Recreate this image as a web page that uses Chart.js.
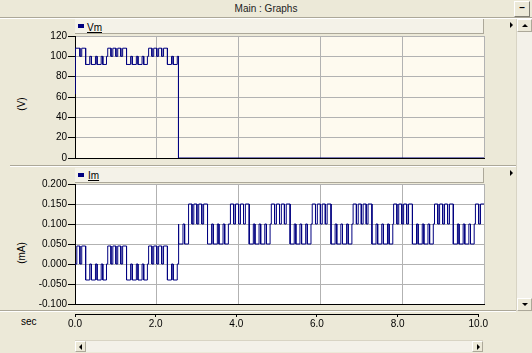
<!DOCTYPE html>
<html>
<head>
<meta charset="utf-8">
<title>Main : Graphs</title>
<script src="https://cdn.jsdelivr.net/npm/chart.js@4/dist/chart.umd.min.js"></script>
<style>
  html, body { margin: 0; padding: 0; }
  body {
    width: 532px; height: 353px; overflow: hidden; position: relative;
    background: #ece9d8; color: #000;
    font-family: "Liberation Sans", Arial, sans-serif; font-size: 10px;
  }
  .abs { position: absolute; }
  #titlebar {
    left: 0; top: 0; width: 532px; height: 17px; line-height: 17px;
    text-align: center; color: #222; border-bottom: 1px solid #aca899;
    box-shadow: 0 1px 0 #fff;
  }
  #minBtn {
    left: 514px; top: 1px; width: 14px; height: 14px; line-height: 12px;
    text-align: center; font-weight: bold; background: #ece9d8;
    border: 1px solid; border-color: #fff #7f7d72 #7f7d72 #fff;
  }
  .strip {
    left: 75px; width: 408px; height: 14px; background: #f4f2e8;
    border-right: 1px solid #aca899; border-bottom: 1px solid #aca899;
  }
  .swatch { width: 6px; height: 4px; background: #000080; }
  .legendText { text-decoration: underline; line-height: 12px; }
  .sep { left: 10px; width: 506px; height: 1px; background: #aca899; box-shadow: 0 1px 0 #fff; }
  .tri { width: 0; height: 0; border-top: 3px solid transparent; border-bottom: 3px solid transparent; border-left: 3px solid #000; }
  #vscroll {
    left: 516px; top: 19px; width: 15px; height: 292px; background: #f3f1e9;
    border-left: 1px solid #d8d4c4;
  }
  .sbtn { width: 13px; height: 11px; background: #ece9d8; border: 1px solid; border-color: #fff #aca899 #aca899 #fff; }
  #hscroll {
    left: 75px; top: 340px; width: 408px; height: 11px; background: #f3f1e9;
    border-top: 1px solid #d8d4c4;
  }
  .ytitle { transform: translate(-50%, -50%) rotate(-90deg); white-space: nowrap; }
  canvas { position: absolute; left: 0; }
</style>
</head>
<body>
<div class="abs" id="titlebar">Main : Graphs</div>
<div class="abs" id="minBtn">–</div>

<div class="abs strip" style="top:19px"></div>
<div class="abs swatch" style="left:78px;top:24px"></div>
<div class="abs legendText" style="left:87px;top:22px">Vm</div>

<div class="abs sep" style="top:165px"></div>
<div class="abs strip" style="top:168px"></div>
<div class="abs swatch" style="left:78px;top:173px"></div>
<div class="abs legendText" style="left:88px;top:170px">Im</div>

<div class="abs sep" style="top:310px;left:0;width:516px"></div>

<div class="abs tri" style="left:510px;top:22px"></div>
<div class="abs tri" style="left:510px;top:170px"></div>

<div class="abs" id="vscroll">
  <div class="abs sbtn" style="left:0;top:0"><div class="abs" style="left:4px;top:4px;width:0;height:0;border-left:3px solid transparent;border-right:3px solid transparent;border-bottom:3px solid #000"></div></div>
  <div class="abs sbtn" style="left:0;top:279px"><div class="abs" style="left:4px;top:4px;width:0;height:0;border-left:3px solid transparent;border-right:3px solid transparent;border-top:3px solid #000"></div></div>
</div>

<div class="abs" id="hscroll">
  <div class="abs sbtn" style="left:0;top:0;width:9px;height:9px"><div class="abs" style="left:3px;top:2px;width:0;height:0;border-top:3px solid transparent;border-bottom:3px solid transparent;border-right:3px solid #000"></div></div>
  <div class="abs sbtn" style="left:397px;top:0;width:9px;height:9px"><div class="abs" style="left:4px;top:2px;width:0;height:0;border-top:3px solid transparent;border-bottom:3px solid transparent;border-left:3px solid #000"></div></div>
</div>

<div class="abs ytitle" style="left:21px;top:104px">(V)</div>
<div class="abs ytitle" style="left:21px;top:253px">(mA)</div>
<div class="abs" style="left:21px;top:316px">sec</div>

<canvas id="vmChart" width="490" height="170" style="top:0"></canvas>
<canvas id="imChart" width="490" height="145" style="top:166px"></canvas>
<canvas id="timeAxis" width="490" height="32" style="top:298px"></canvas>

<script>
// ---- Time axis (seconds) ----
const timeTicks = [0, 2, 4, 6, 8, 10];
const timeTickLabels = ['0.0', '2.0', '4.0', '6.0', '8.0', '10.0'];

// ---- Vm (V): switching instants and the level held after each one ----
const vmTime = [0, 0.01, 0.12, 0.165, 0.26, 0.36, 0.40, 0.50, 0.54, 0.64, 0.68, 0.77,
  0.80, 0.88, 0.925, 1.00, 1.045, 1.12, 1.165, 1.26, 1.36, 1.40, 1.50, 1.54, 1.64, 1.68, 1.77,
  1.80, 1.88, 1.925, 2.00, 2.045, 2.12, 2.165, 2.26, 2.36, 2.40, 2.50, 2.53, 10];
const vmValue = [63, 108, 100, 108, 92, 100, 92, 100, 92, 100, 92, 100,
  108, 100, 108, 100, 108, 100, 108, 92, 100, 92, 100, 92, 100, 92, 100,
  108, 100, 108, 100, 108, 100, 108, 92, 100, 92, 100, 0, 0];
const vmTicks = [0, 20, 40, 60, 80, 100, 120];
const vmTickLabels = ['0', '20', '40', '60', '80', '100', '120'];

// ---- Im (mA): switching instants and the level held after each one ----
const imTime = [0, 0.045, 0.12, 0.165, 0.26, 0.36, 0.40, 0.50, 0.54, 0.64, 0.68, 0.77,
  0.80, 0.88, 0.925, 1.00, 1.045, 1.12, 1.165, 1.26, 1.36, 1.40, 1.50, 1.54, 1.64, 1.68, 1.77,
  1.80, 1.88, 1.925, 2.00, 2.045, 2.12, 2.165, 2.26, 2.36, 2.40, 2.50, 2.52, 2.54, 2.64, 2.68, 2.77,
  2.78, 2.86, 2.905, 2.98, 3.025, 3.10, 3.145, 3.24, 3.34, 3.38, 3.48, 3.52, 3.62, 3.66, 3.75,
  3.80, 3.88, 3.925, 4.00, 4.045, 4.12, 4.165, 4.26, 4.36, 4.40, 4.50, 4.54, 4.64, 4.68, 4.77,
  4.80, 4.88, 4.925, 5.00, 5.045, 5.12, 5.165, 5.26, 5.36, 5.40, 5.50, 5.54, 5.64, 5.68, 5.77,
  5.80, 5.88, 5.925, 6.00, 6.045, 6.12, 6.165, 6.26, 6.36, 6.40, 6.50, 6.54, 6.64, 6.68, 6.77,
  6.80, 6.88, 6.925, 7.00, 7.045, 7.12, 7.165, 7.26, 7.36, 7.40, 7.50, 7.54, 7.64, 7.68, 7.77,
  7.79, 7.87, 7.915, 7.99, 8.035, 8.11, 8.155, 8.25, 8.35, 8.39, 8.49, 8.53, 8.63, 8.67, 8.76,
  8.79, 8.87, 8.915, 8.99, 9.035, 9.11, 9.155, 9.25, 9.35, 9.39, 9.49, 9.53, 9.63, 9.67, 9.76,
  9.79, 9.87, 9.915, 10];
const imValue = [0, 0.045, 0, 0.045, -0.04, 0, -0.04, 0, -0.04, 0, -0.04, 0,
  0.045, 0, 0.045, 0, 0.045, 0, 0.045, -0.04, 0, -0.04, 0, -0.04, 0, -0.04, 0,
  0.045, 0, 0.045, 0, 0.045, 0, 0.045, -0.04, 0, -0.04, 0, 0.1, 0.05, 0.1, 0.05, 0.1,
  0.15, 0.1, 0.15, 0.1, 0.15, 0.1, 0.15, 0.05, 0.1, 0.05, 0.1, 0.05, 0.1, 0.05, 0.1,
  0.15, 0.1, 0.15, 0.1, 0.15, 0.1, 0.15, 0.05, 0.1, 0.05, 0.1, 0.05, 0.1, 0.05, 0.1,
  0.15, 0.1, 0.15, 0.1, 0.15, 0.1, 0.15, 0.05, 0.1, 0.05, 0.1, 0.05, 0.1, 0.05, 0.1,
  0.15, 0.1, 0.15, 0.1, 0.15, 0.1, 0.15, 0.05, 0.1, 0.05, 0.1, 0.05, 0.1, 0.05, 0.1,
  0.15, 0.1, 0.15, 0.1, 0.15, 0.1, 0.15, 0.05, 0.1, 0.05, 0.1, 0.05, 0.1, 0.05, 0.1,
  0.15, 0.1, 0.15, 0.1, 0.15, 0.1, 0.15, 0.05, 0.1, 0.05, 0.1, 0.05, 0.1, 0.05, 0.1,
  0.15, 0.1, 0.15, 0.1, 0.15, 0.1, 0.15, 0.05, 0.1, 0.05, 0.1, 0.05, 0.1, 0.05, 0.1,
  0.15, 0.1, 0.15, 0.15];
const imTicks = [-0.1, -0.05, 0, 0.05, 0.1, 0.15, 0.2];
const imTickLabels = ['-0.100', '-0.050', '0.000', '0.050', '0.100', '0.150', '0.200'];

// Turn switching instants into square-wave vertices (vertical edge at each instant).
function squareWave(times, values) {
  const pts = [];
  for (let i = 0; i < times.length; i++) {
    if (i > 0) pts.push({ x: times[i], y: values[i - 1] });
    pts.push({ x: times[i], y: values[i] });
  }
  return pts;
}

// Fills the plotting area before anything else is drawn.
const plotBackground = {
  id: 'plotBackground',
  beforeDraw(chart, args, opts) {
    const { ctx, chartArea: a } = chart;
    ctx.save();
    ctx.fillStyle = opts.color;
    ctx.fillRect(a.left, a.top, a.right - a.left, a.bottom - a.top);
    ctx.restore();
  }
};

const FONT = { family: '"Liberation Sans", Arial, sans-serif', size: 10, lineHeight: 1 };
Chart.defaults.color = '#000';

function panel(canvasId, label, points, yTicks, yLabels, bg, padding) {
  return new Chart(document.getElementById(canvasId), {
    type: 'line',
    data: {
      datasets: [{
        label: label,
        data: points,
        borderColor: '#000080',
        borderWidth: 1,
        pointRadius: 0,
        tension: 0,
        fill: false
      }]
    },
    options: {
      responsive: false,
      animation: false,
      events: [],
      parsing: false,
      layout: { autoPadding: false, padding: padding },
      plugins: {
        legend: { display: false },
        tooltip: { enabled: false },
        plotBackground: { color: bg }
      },
      scales: {
        x: {
          type: 'linear', min: 0, max: 10,
          afterBuildTicks: s => { s.ticks = timeTicks.map(v => ({ value: v })); },
          ticks: { display: false },
          grid: { color: '#b2b2b2', drawTicks: false },
          border: { display: true, color: '#000' }
        },
        y: {
          type: 'linear', min: yTicks[0], max: yTicks[yTicks.length - 1],
          afterBuildTicks: s => { s.ticks = yTicks.map(v => ({ value: v })); },
          afterFit: s => { s.width = 75; },
          ticks: { font: FONT, padding: 1, callback: (v, i) => yLabels[i] },
          grid: { color: '#b2b2b2', tickColor: '#000', tickLength: 7 },
          border: { display: true, color: '#000' }
        }
      }
    },
    plugins: [plotBackground]
  });
}

panel('vmChart', 'Vm', squareWave(vmTime, vmValue), vmTicks, vmTickLabels, '#fefaef',
  { top: 36, bottom: 12, left: 0, right: 6 });
panel('imChart', 'Im', squareWave(imTime, imValue), imTicks, imTickLabels, '#ffffff',
  { top: 18, bottom: 7, left: 0, right: 6 });

// Shared time axis under both panels.
new Chart(document.getElementById('timeAxis'), {
  type: 'line',
  data: { datasets: [] },
  options: {
    responsive: false,
    animation: false,
    events: [],
    layout: { autoPadding: false, padding: { top: 0, bottom: 0, left: 75, right: 6 } },
    plugins: { legend: { display: false }, tooltip: { enabled: false } },
    scales: {
      x: {
        type: 'linear', min: 0, max: 10,
        afterBuildTicks: s => { s.ticks = timeTicks.map(v => ({ value: v })); },
        ticks: { font: FONT, padding: 2, maxRotation: 0, callback: (v, i) => timeTickLabels[i] },
        grid: { drawOnChartArea: false, tickColor: '#000', tickLength: 3 },
        border: { display: true, color: '#000' }
      },
      y: { display: false, min: 0, max: 1 }
    }
  }
});
</script>
</body>
</html>
